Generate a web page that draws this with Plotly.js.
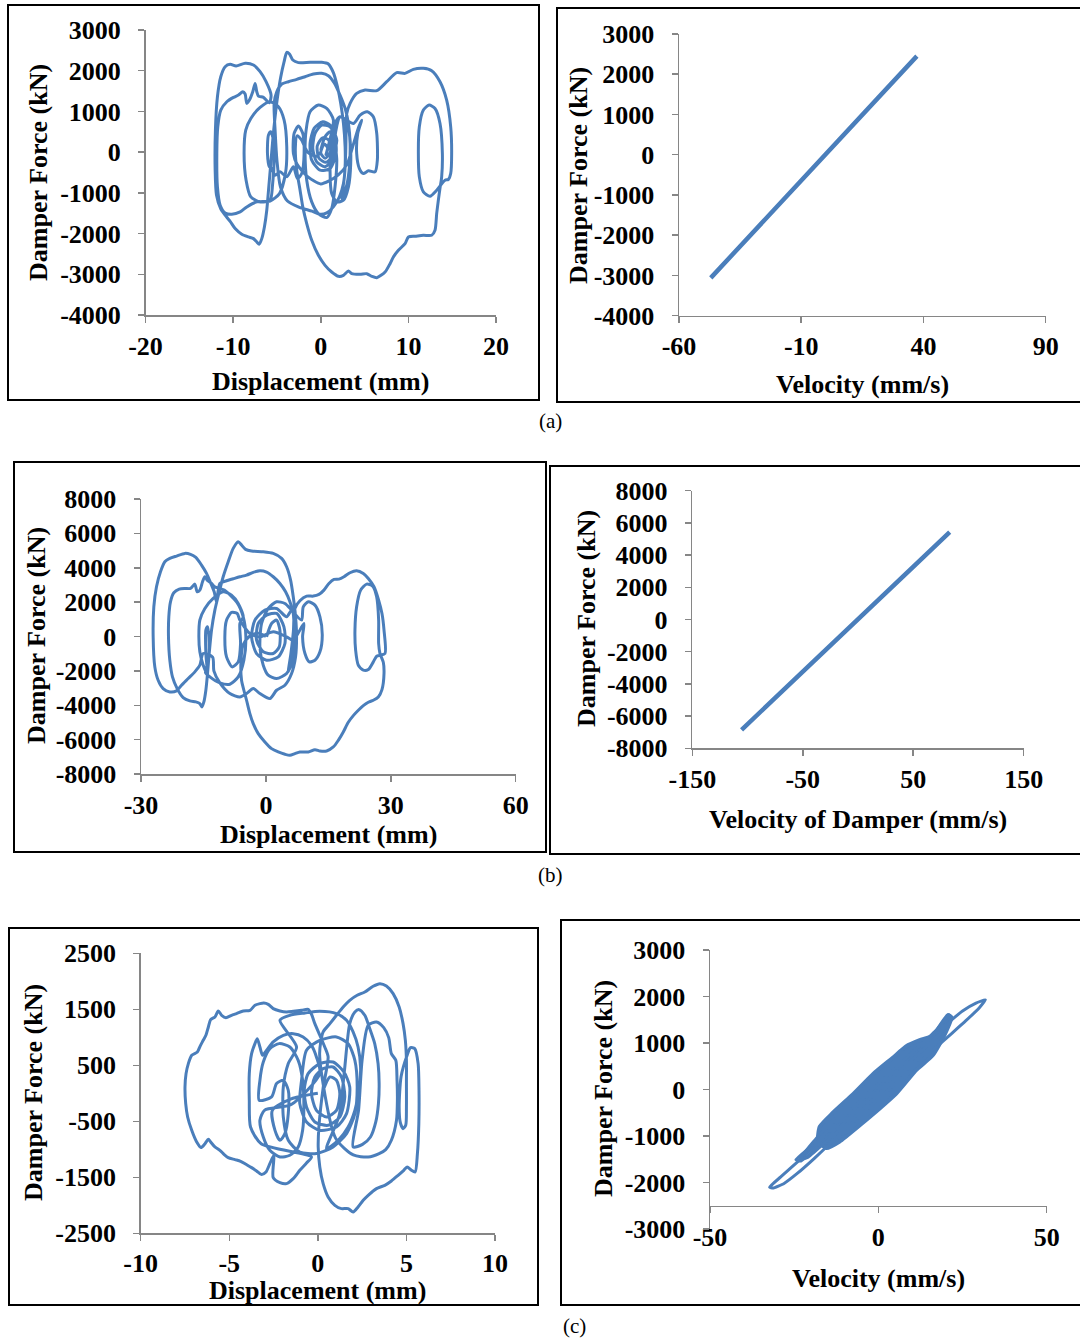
<!DOCTYPE html>
<html>
<head>
<meta charset="utf-8">
<script src="https://cdn.plot.ly/plotly-3.0.1.min.js"></script>
<style>
  html, body { margin: 0; padding: 0; background: #fff; }
  #fig { width: 1080px; height: 1342px; }
</style>
</head>
<body>
<div id="fig"></div>
<script>
// ---------- (a) damper force vs displacement (mm, kN) ----------
const centreLoopsA = [
  [0.0,49],[0.49,377],[1.06,500],[1.52,213],[1.25,-197],[0.49,-361],[-0.46,-238],[-0.91,90],[-0.65,459],[0.11,664],
  [1.06,623],[1.63,377],[1.75,-33],[1.06,-402],[-0.08,-443],[-1.03,-197],[-1.22,213],[-0.76,582],[0.23,746],[1.06,664],
  [1.83,295],[1.3,-100],[0.6,-250],[-0.2,-150],[-0.4,150],[0.2,350],[0.9,300],[1.1,0],[0.5,-150],[0.0,-20],[0.4,200],[0.8,100],[0.6,-60],
  [1.44,787],[0.68,1074],[-0.27,1156],[-1.22,992],[-1.67,541],[-1.79,-33],[-1.6,-689],[-1.03,-1222],[-0.27,-1509],[0.68,-1607],
  [1.25,-1386],[1.63,-853],[1.83,-197],[1.63,377],
  [2.2,869],[2.97,746],[3.35,295],[3.42,-279],[3.16,-853],[2.59,-1181],[1.83,-1222],[1.25,-1017],[1.06,-443],[1.25,295],[1.63,705],[2.2,869],
  [3.73,705],[4.49,910],[5.32,992],[6.0,869],[6.39,459],[6.46,-197],[6.2,-484],[5.44,-459],[4.87,-525],[4.41,-402],[4.1,-33],
  [4.22,459],[4.68,787],[4.3,600],[3.6,100],[3.0,-300],[2.0,-560],[1.0,-700],[0.0,-780],[-1.5,-600],[-2.7,-300]
];
const midLoopsA = [
  [-3.12,-33],[-3.04,459],[-2.55,640],[-2.05,459],[-1.9,-33],[-2.17,-525],[-2.66,-648],[-3.12,-361],
  [-3.88,-607],[-4.64,-484],[-5.21,-566],[-5.59,-402],[-5.86,-361],[-6.08,-33],[-5.97,418],[-5.7,500],[-5.4,295],[-5.32,-197],[-5.5,-800],
  [-5.78,-1181],[-6.92,-1222],[-7.98,-1099],[-8.52,-689],[-8.75,-33],[-8.56,541],[-7.98,828],[-6.92,1099],[-5.78,1238],
  [-4.83,1115],[-4.18,787],[-3.88,131],[-4.03,-525],[-4.71,-1017],[-5.78,-1200]
];
const leftLoopsA = [
  [-7.3,-1222],[-8.44,-1345],[-9.2,-1468],[-10.15,-1525],[-10.91,-1492],[-11.48,-1304],[-11.79,-853],[-11.86,-33],[-11.75,623],
  [-11.41,1033],[-10.72,1238],[-9.96,1345],[-9.39,1402],[-8.9,1484],[-8.63,1427],[-8.44,1197],[-8.14,1279],[-7.76,1484],[-7.49,1689],
  [-7.3,1484],[-7.11,1378],[-6.54,1345],[-5.86,1213],
  [-5.67,1402],[-6.24,1730],[-6.92,1976],[-7.68,2140],[-8.63,2181],[-9.66,2116],[-10.34,2157],[-10.91,2099],[-11.41,1853],
  [-11.79,1361],[-12.02,541],[-12.05,-443],[-11.9,-1050],[-11.4,-1400],
  [-10.72,-1600],[-10.34,-1700],[-9.77,-1878],[-9.01,-2017],[-8.25,-2083],[-7.68,-2124],[-7.3,-2206],[-7.03,-2263],[-6.73,-2124],
  [-6.43,-1837],[-6.16,-1427],[-5.93,-853],[-5.7,-279],[-5.48,295],[-5.21,869],[-4.9,1402],[-4.56,1853],[-4.18,2222],[-3.88,2452],
  [-3.57,2411],[-3.19,2263],[-2.55,2198],[-1.22,2206],[0.11,2206],[0.87,2165],[1.44,1952],[1.9,1607],[2.28,1197],[2.59,705],
  [2.78,131],[2.78,-361],[2.59,-771],[2.13,-1099],[1.44,-1345],[0.68,-1492],[-0.08,-1525],
  [-1.0,-1450],[-2.5,-1350],[-3.8,-1200],[-4.6,-850],[-5.0,-200],[-5.2,500],[-5.32,1197],[-5.02,1484],[-4.45,1673],[-3.69,1730],
  [-2.74,1788],[-1.79,1853],[-0.84,1919],[0.11,1935],[0.87,1878],[1.52,1706],[2.2,1402],[2.78,1074],[3.16,705],[3.35,213],
  [3.27,-361],[2.97,-812],[2.4,-1140],[2.7,-600],[2.85,0],[2.9,600],[2.97,951]
];
const rightLoopsA = [
  [3.35,1197],[4.1,1443],[5.06,1525],[6.39,1509],[7.53,1730],[8.67,1952],[9.62,1935],[10.57,2034],[11.71,2058],[12.66,2001],
  [13.61,1730],[14.37,1279],[14.83,623],[14.94,-33],[14.83,-525],[14.56,-672],[14.18,-689],
  [13.23,-935],[12.47,-1082],[11.71,-976],[11.25,-607],[11.14,-33],[11.25,623],[11.71,1033],[12.36,1156],[13.04,1074],
  [13.61,705],[13.88,-33],[13.8,-607],[13.6,-900],
  [13.42,-1181],[13.23,-1509],[13.04,-1919],[12.66,-2042],[11.71,-2042],[10.76,-2066],[10.0,-2083],[9.62,-2247],[8.86,-2411],
  [8.29,-2575],[7.91,-2739],[7.34,-2944],[6.39,-3083],[5.82,-3050],[5.25,-2985],[4.49,-3001],[3.54,-2985],[3.16,-2919],
  [2.59,-3026],[2.02,-3050],[1.25,-2944],[0.49,-2780],[-0.27,-2534],[-1.03,-2165],[-1.6,-1755],[-2.05,-1345],[-2.36,-935],
  [-2.74,-443],[-2.9,100],[-2.7,400],[-2.2,300],[-1.5,0],[-0.5,-100],[0.0,0]
];
// (a) damper force vs velocity (mm/s, kN)
const velocityA = [-47.0, -30.0, -15.0, 0.0, 15.0, 30.0, 37.3, 20.0, 0.0, -25.0, -47.0];
const velForceA = [-3060, -1955, -975, 5, 985, 1960, 2450, 1310, 0, -1630, -3060];

// ---------- (b) ----------
const centreLoopsB = [
  [0.16,-19],[1.36,757],[2.56,952],[3.37,369],[3.21,-602],[1.76,-990],[-0.64,-893],[-2.24,-214],[-1.84,757],[0.16,1243],
  [2.56,1340],[4.33,563],[4.57,-408],[2.96,-1185],[0.16,-1379],[-2.24,-990],[-3.45,-19],[-2.64,952],[-0.24,1534],[2.56,1631],[4.97,1146],
  [6.17,1534],[6.97,757],[7.21,-214],[6.57,-1379],[4.97,-2156],[2.56,-2447],[0.56,-2253],[-0.64,-1670],[-1.44,-602],[-1.04,757],
  [0.56,1631],[2.56,2020],[4.57,1923],[6.17,1534],
  [8.57,952],[8.97,1728],[10.18,2020],[11.78,1825],[12.98,1146],[13.54,78],[12.98,-893],[11.78,-1379],[10.42,-1476],[9.38,-990],
  [8.81,-19],[9.13,757],[6.57,-214],[4.97,-19],[1.76,272],[-1.44,-19],[-3.85,175]
];
const midLoopsB = [
  [-6.25,952],[-6.89,1340],[-8.25,1398],[-9.46,952],[-9.86,-19],[-9.46,-1185],[-8.09,-1767],[-6.65,-1476],[-6.09,-408],[-6.25,757],
  [-5.45,1146],[-6.65,1923],[-8.25,2408],[-10.26,2602],[-12.66,2214],[-14.66,1631],[-15.87,952],[-16.1,-19],[-15.87,-893],[-15.06,-1670],
  [-14.1,-2156],[-14.42,-990],[-14.42,369],[-14.02,563],[-13.7,-19],[-13.78,-1379],[-14.5,-2100],
  [-13.46,-2350],[-11.06,-2700],[-8.65,-2777],[-6.65,-2350],[-5.29,-1379],[-4.81,-19],[-5.45,1146],[-7.0,2000],[-10.0,2700],[-12.3,2900]
];
const leftLoopsB = [
  [-13.06,3088],[-14.1,3282],[-14.66,3476],[-15.22,3185],[-15.87,2699],[-16.51,2602],[-17.07,3049],[-18.11,2796],[-19.47,2796],
  [-20.83,2757],[-22.12,2544],[-22.92,2020],[-23.32,1146],[-23.4,-19],[-23.08,-1379],[-22.44,-2350],[-21.31,-3030],[-19.87,-3554],
  [-18.27,-3748],[-16.83,-3806],[-15.87,-3903],[-15.38,-4098],[-14.9,-3806],[-14.42,-3127],[-14.02,-2156],[-13.62,-990],[-13.06,369],
  [-12.26,1534],[-11.3,2505],[-10.26,3476],[-9.05,4350],[-7.85,5127],[-6.65,5515],[-5.85,5321],[-4.89,5069],[-3.45,4972],[-0.64,4933],
  [1.76,4836],[3.77,4544],[4.97,4059],[5.93,3282],[6.57,2311],[7.13,1146],[7.37,-19],[7.13,-1185],[6.17,-2156],[4.57,-2835],[2.56,-3127],
  [0.96,-3612],[-1.44,-3321],[-3.04,-3030],[-4.65,-3321],[-6.25,-3515],[-8.65,-3321],[-11.06,-2700],[-12.5,-2000],[-12.8,-1200],
  [-15.06,-990],[-15.87,-1670],[-17.07,-2059],[-18.67,-2447],[-20.27,-2835],[-21.47,-3165],[-23.08,-3224],[-24.68,-3030],[-25.88,-2544],
  [-26.68,-1767],[-27.08,-19],[-26.92,1728],[-26.28,2894],[-25.32,3767],[-24.28,4350],[-23.08,4544],[-21.47,4680],[-19.47,4836],
  [-18.11,4777],[-16.83,4602],[-15.46,4156],[-14.26,3670],[-13.3,3127],[-12.42,2602],[-11.86,2020],
  [-11.06,3088],[-9.46,3243],[-7.85,3360],[-6.25,3476],[-4.65,3573],[-3.04,3729],[-1.44,3826],[0.16,3748],[1.76,3476],[3.37,3088],
  [4.73,2602],[5.77,2020],[6.57,1340],[6.73,-19],[6.41,-1185],[5.37,-2059],[6.0,-1000],[6.6,300],[6.97,1631]
];
const rightLoopsB = [
  [8.17,2078],[9.78,2350],[11.38,2350],[12.74,2447],[13.94,2699],[15.14,3088],[16.35,3321],[17.55,3340],[18.75,3476],[20.19,3709],
  [21.79,3826],[23.4,3670],[24.6,3379],[25.96,2894],[27.08,2117],[27.88,1340],[28.37,369],[28.61,-990],
  [27.4,-1088],[26.6,-1146],[25.8,-1476],[24.6,-1922],[23.4,-1961],[22.2,-1670],[21.55,-796],[21.39,369],[21.79,1728],[22.76,2699],
  [24.2,3049],[25.64,2932],[26.6,2311],[27.08,952],[27.08,-408],[27.4,-990],[28.2,-1500],
  [28.37,-2156],[27.88,-3088],[27.0,-3515],[25.8,-3709],[24.6,-3826],[23.4,-4020],[22.2,-4292],[20.99,-4603],[19.79,-4991],
  [18.59,-5554],[17.39,-6040],[16.19,-6428],[14.58,-6661],[12.98,-6661],[11.78,-6583],[10.18,-6719],[8.17,-6719],[6.97,-6816],
  [5.77,-6914],[4.57,-6855],[2.96,-6719],[1.36,-6525],[-0.24,-6137],[-1.84,-5651],[-3.04,-5069],[-3.85,-4486],[-4.65,-3709],
  [-5.29,-3127],[-5.85,-2544],[-6.0,-1500],[-5.5,-500],[-4.0,0],[-2.0,200],[0.0,0]
];
const velocityB = [-105.4, -80.0, -50.0, -20.0, 0.0, 20.0, 50.0, 83.0, 40.0, 0.0, -60.0, -105.4];
const velForceB = [-6850, -5210, -3250, -1300, 10, 1310, 3270, 5420, 2620, 0, -3920, -6850];

// ---------- (c) ----------
const centreLoopsC = [
  [0.3,54],[0.68,292],[1.05,232],[1.24,-6],[1.05,-304],[0.49,-423],[-0.08,-304],[-0.36,-6],[-0.17,292],[0.3,440],[0.86,470],
  [1.33,292],[1.52,-65],[1.24,-423],[0.58,-571],[-0.17,-512],[-0.64,-244],[-0.77,54],[-0.55,351],[0.11,530],[0.86,559],[1.47,381],
  [1.8,113],[1.62,-363],[1.05,-601],[0.11,-661],[-0.64,-512],[-1.02,-185],[-0.92,232],
  [-0.64,768],[0.11,946],[1.05,1006],[1.71,887],[2.09,589],[2.22,113],[2.09,-363],[1.62,-720],[0.86,-958],[-0.08,-1077],
  [-1.02,-1048],[-1.67,-839],[-1.95,-423],[-1.95,113],[-1.67,530],[-1.2,827],
  [-2.14,1303],[-1.58,1393],[-0.73,1434],[0.11,1464],[1.05,1423],[1.62,1303],[1.99,1095],[2.27,827],[2.41,470],[2.33,54],
  [2.09,-304],[1.71,-601],[1.15,-839],[0.49,-988],
  [1.2,-400],[1.5,400],[1.8,1244],[2.09,1452],[2.33,1494],[2.65,1393],[2.93,1155],[3.21,887],[3.4,530],[3.46,173],[3.42,-185],
  [3.27,-512],[2.97,-780],[2.52,-911],[1.99,-958],
  [2.3,-300],[2.5,600],[2.84,1214],[3.31,1274],[3.72,1173],[4.0,994],[4.15,708],[4.4,589],[4.47,232],[4.49,-125],[4.44,-482],
  [4.15,-839],[3.83,-1006],[3.46,-1077],[2.84,-1137],[2.0,-1100],[1.0,-800]
];
const rightLoopsC = [
  [0.1,700],[0.3,1095],[0.68,1244],[1.05,1393],[1.43,1542],[1.8,1661],[2.22,1750],[2.65,1809],[3.12,1911],[3.5,1958],[3.87,1917],
  [4.25,1780],[4.59,1542],[4.81,1244],[4.94,946],[5.0,589],[5.0,173],[5.0,-244],[4.96,-571],[4.81,-631],[4.66,-530],[4.59,-244],
  [4.7,300],[5.04,679],[5.23,815],[5.47,798],[5.66,530],[5.71,54],[5.7,-542],[5.62,-1077],[5.49,-1405],[5.28,-1375],[5.04,-1315],
  [4.85,-1375],[4.53,-1464],[4.15,-1565],[3.78,-1643],[3.31,-1702],[2.84,-1821],[2.56,-1911],[2.27,-2030],[1.99,-2119],[1.71,-2059],
  [1.33,-2059],[0.96,-2000],[0.58,-1851],[0.3,-1613],[0.11,-1315],[0.02,-958],[0.06,-601],[0.3,100],[0.58,649]
];
const leftLoopsC = [
  [0.39,827],[0.11,1036],[-0.17,1244],[-0.36,1411],[-0.55,1500],[-0.92,1482],[-1.39,1464],[-1.77,1452],[-2.14,1470],[-2.52,1512],
  [-2.8,1589],[-3.05,1613],[-3.27,1601],[-3.55,1571],[-3.83,1482],[-4.21,1470],[-4.59,1423],[-4.87,1393],[-5.19,1351],[-5.43,1393],
  [-5.62,1470],[-5.81,1363],[-6.05,1315],[-6.18,1184],[-6.32,1036],[-6.47,946],[-6.65,839],[-6.8,738],[-7.12,679],[-7.31,530],
  [-7.44,351],[-7.5,113],[-7.46,-185],[-7.35,-423],[-7.12,-661],[-6.84,-869],[-6.6,-970],[-6.37,-899],[-6.18,-821],[-6.05,-869],
  [-5.81,-958],[-5.53,-1018],[-5.3,-1089],[-5.06,-1149],[-4.68,-1184],[-4.36,-1214],[-4.06,-1268],[-3.74,-1327],[-3.46,-1387],
  [-3.18,-1452],[-2.93,-1405],[-2.71,-1256],[-2.48,-1107],
  [-2.52,-1506],[-2.14,-1595],[-1.77,-1613],[-1.39,-1524],[-1.02,-1375],[-0.64,-1244],[-0.36,-1137],
  [-3.2,-900],[-3.8,-601],[-3.87,-125],[-3.87,351],[-3.74,708],[-3.55,887],[-3.42,976],[-3.27,827],[-3.12,679],[-2.89,768],
  [-2.52,917],[-1.95,1036],[-1.39,1065],[-0.83,1006],[-0.36,857],[-0.08,649],[0.11,351],
  [-1.5,-200],[-3.0,-300],[-3.27,-482],[-3.08,-780],[-2.71,-1018],[-2.14,-1137],[-1.58,-1107],[-1.11,-958],[-0.86,-661],
  [-0.79,-244],[-0.86,232],[-1.11,589],[-1.58,827],[-2.18,887],[-2.71,798],[-3.08,559],[-3.27,232],[-3.31,-125],
  [-2.61,-65],[-2.33,173],[-1.95,232],[-1.67,54],[-1.67,-363],[-1.86,-720],[-2.14,-839],[-2.42,-661],[-2.57,-304],[-1.5,-100],[0.0,0]
];
// (c) force vs velocity: outer cycles and the dense core of small cycles
const outerCycleC = [
  [-32.3,-2099],[-29.0,-1880],[-25.0,-1620],[-21.0,-1360],[-15.0,-960],[-5.0,-300],[5.0,380],[15.0,1060],[21.0,1450],[25.0,1690],
  [29.0,1860],[31.8,1927],[30.0,1760],[26.0,1480],[22.0,1220],[17.0,900],[7.0,250],[-3.0,-400],[-13.0,-1070],[-19.0,-1480],
  [-24.0,-1800],[-28.0,-2020],[-31.3,-2120],[-32.3,-2099]
];
const secondCycleC = [
  [-24.5,-1510],[-20.0,-1230],[-10.0,-560],[0.0,120],[10.0,790],[17.0,1260],[21.0,1600],[21.5,1500],[18.0,1180],[10.0,640],
  [0.0,-20],[-10.0,-700],[-18.0,-1230],[-23.0,-1540],[-24.5,-1510]
];
const lowerCycleC = [[-13.0,-620],[-19.0,-1100],[-23.4,-1500],[-21.0,-1460],[-16.0,-1150],[-12.0,-900]];
const coreCyclesC = [
  [-17.4,-800],[-13.5,-500],[-7.5,-100],[-1.6,330],[4.4,690],[8.3,930],[12.3,1060],[16.2,1160],[20.7,1604],[21.7,1554],
  [19.7,1180],[16.2,740],[11.3,420],[5.3,-90],[0.4,-410],[-5.5,-770],[-11.5,-1120],[-15.4,-1260],[-17.9,-1100],[-17.4,-800]
];

// ---------- drawing ----------
const BLUE = '#4A7EBB';
const AXIS = '#868686';
const SERIF = 'Liberation Serif, Times New Roman, serif';
const W = 1080, H = 1342;
const fx = p => p / W;
const fy = p => 1 - p / H;

const join = (...segs) => [].concat(...segs);
const xs = pts => pts.map(p => p[0]);
const ys = pts => pts.map(p => p[1]);

function loopTrace(pts, n, extra) {
  return Object.assign({
    type: 'scatter', mode: 'lines', x: xs(pts), y: ys(pts),
    xaxis: n === 1 ? 'x' : 'x' + n, yaxis: n === 1 ? 'y' : 'y' + n,
    line: { color: BLUE, width: 3, shape: 'spline', smoothing: 0.7 },
    hoverinfo: 'skip', showlegend: false
  }, extra || {});
}

const pathA = join(centreLoopsA, midLoopsA, leftLoopsA, rightLoopsA);
const pathB = join(centreLoopsB, midLoopsB, leftLoopsB, rightLoopsB);
const pathC = join(centreLoopsC, rightLoopsC, leftLoopsC);

const traces = [
  loopTrace(pathA, 1),
  { type: 'scatter', mode: 'lines', x: velocityA, y: velForceA, xaxis: 'x2', yaxis: 'y2',
    line: { color: BLUE, width: 4.5 }, hoverinfo: 'skip', showlegend: false },
  loopTrace(pathB, 3),
  { type: 'scatter', mode: 'lines', x: velocityB, y: velForceB, xaxis: 'x4', yaxis: 'y4',
    line: { color: BLUE, width: 4.5 }, hoverinfo: 'skip', showlegend: false },
  loopTrace(pathC, 5),
  loopTrace(coreCyclesC, 6, { fill: 'toself', fillcolor: BLUE, line: { color: BLUE, width: 4, shape: 'spline', smoothing: 0.5 } }),
  loopTrace(outerCycleC, 6, { line: { color: BLUE, width: 3, shape: 'spline', smoothing: 0.4 } }),
  loopTrace(secondCycleC, 6, { line: { color: BLUE, width: 3, shape: 'spline', smoothing: 0.4 } }),
  loopTrace(lowerCycleC, 6, { line: { color: BLUE, width: 3, shape: 'spline', smoothing: 0.4 } })
];

function ticks(vals) { return { tickvals: vals, ticktext: vals.map(v => String(v)) }; }

function axis(domain, range, tv, extra) {
  return Object.assign({
    domain: domain, range: range, ...ticks(tv),
    showline: true, linecolor: AXIS, linewidth: 1.5,
    ticks: 'outside', ticklen: 6, tickwidth: 1.5, tickcolor: AXIS,
    showgrid: false, zeroline: false, fixedrange: true,
    tickfont: { family: SERIF, size: 26, color: '#000', weight: 'bold' }
  }, extra || {});
}

const xStand = { ticklabelstandoff: 1 };
const yStand = { ticklabelstandoff: 12 };

const layout = {
  width: W, height: H,
  margin: { l: 0, r: 0, t: 0, b: 0, pad: 0 },
  paper_bgcolor: '#fff', plot_bgcolor: 'rgba(0,0,0,0)',
  showlegend: false,
  xaxis:  axis([fx(145.5), fx(496)], [-20, 20], [-20, -10, 0, 10, 20], Object.assign({ anchor: 'y' }, xStand)),
  yaxis:  axis([fy(315), fy(30)], [-4000, 3000], [-4000, -3000, -2000, -1000, 0, 1000, 2000, 3000], Object.assign({ anchor: 'x' }, yStand)),
  xaxis2: axis([fx(679), fx(1045.7)], [-60, 90], [-60, -10, 40, 90], Object.assign({ anchor: 'y2' }, xStand)),
  yaxis2: axis([fy(315.7), fy(34)], [-4000, 3000], [-4000, -3000, -2000, -1000, 0, 1000, 2000, 3000], Object.assign({ anchor: 'x2' }, yStand)),
  xaxis3: axis([fx(141), fx(515.7)], [-30, 60], [-30, 0, 30, 60], Object.assign({ anchor: 'y3' }, xStand)),
  yaxis3: axis([fy(774), fy(499)], [-8000, 8000], [-8000, -6000, -4000, -2000, 0, 2000, 4000, 6000, 8000], Object.assign({ anchor: 'x3' }, yStand)),
  xaxis4: axis([fx(692.3), fx(1023.7)], [-150, 150], [-150, -50, 50, 150], Object.assign({ anchor: 'y4' }, xStand)),
  yaxis4: axis([fy(748.3), fy(490.7)], [-8000, 8000], [-8000, -6000, -4000, -2000, 0, 2000, 4000, 6000, 8000], Object.assign({ anchor: 'x4' }, yStand)),
  xaxis5: axis([fx(140.7), fx(495)], [-10, 10], [-10, -5, 0, 5, 10], Object.assign({ anchor: 'y5' }, { ticklabelstandoff: 0 })),
  yaxis5: axis([fy(1233.3), fy(953.3)], [-2500, 2500], [-2500, -1500, -500, 500, 1500, 2500], Object.assign({ anchor: 'x5' }, yStand)),
  xaxis6: axis([fx(710), fx(1046.7)], [-50, 50], [-50, 0, 50], { anchor: 'free', position: fy(1205.75), ticklabelstandoff: 2 }),
  yaxis6: axis([fy(1229), fy(950)], [-3000, 3000], [-3000, -2000, -1000, 0, 1000, 2000, 3000], Object.assign({ anchor: 'x6' }, yStand)),
  shapes: [
    [8, 5, 539, 400], [557, 8, 1086, 402],
    [14, 462, 546, 852], [550, 466, 1086, 854],
    [9, 928, 538, 1305], [561, 920, 1086, 1305]
  ].map(b => ({ type: 'rect', xref: 'paper', yref: 'paper',
    x0: fx(b[0]), x1: fx(b[2]), y0: fy(b[3]), y1: fy(b[1]),
    line: { color: '#000', width: 2 }, fillcolor: 'rgba(0,0,0,0)' })),
  annotations: []
};

const titleFont = { family: SERIF, size: 26, color: '#000', weight: 'bold' };
function title(text, px, py, rot) {
  return { text: text, xref: 'paper', yref: 'paper', x: fx(px), y: fy(py),
    xanchor: 'center', yanchor: 'middle', showarrow: false, textangle: rot || 0, font: titleFont };
}
function caption(text, px, py) {
  return { text: text, xref: 'paper', yref: 'paper', x: fx(px), y: fy(py),
    xanchor: 'center', yanchor: 'middle', showarrow: false,
    font: { family: SERIF, size: 21, color: '#000' } };
}
layout.annotations.push(
  title('Damper Force (kN)', 38, 173, -90),
  title('Displacement (mm)', 320, 381),
  title('Damper Force (kN)', 578, 176, -90),
  title('Velocity (mm/s)', 862, 384),
  caption('(a)', 550, 421),
  title('Damper Force (kN)', 36, 636, -90),
  title('Displacement (mm)', 328, 834),
  title('Damper Force (kN)', 586, 619, -90),
  title('Velocity of Damper (mm/s)', 858, 819),
  caption('(b)', 550, 875),
  title('Damper Force (kN)', 33, 1093, -90),
  title('Displacement (mm)', 317, 1290),
  title('Damper Force (kN)', 603, 1089, -90),
  title('Velocity (mm/s)', 878, 1278),
  caption('(c)', 574, 1326)
);

Plotly.newPlot('fig', traces, layout, { staticPlot: true, displayModeBar: false });
</script>
</body>
</html>
